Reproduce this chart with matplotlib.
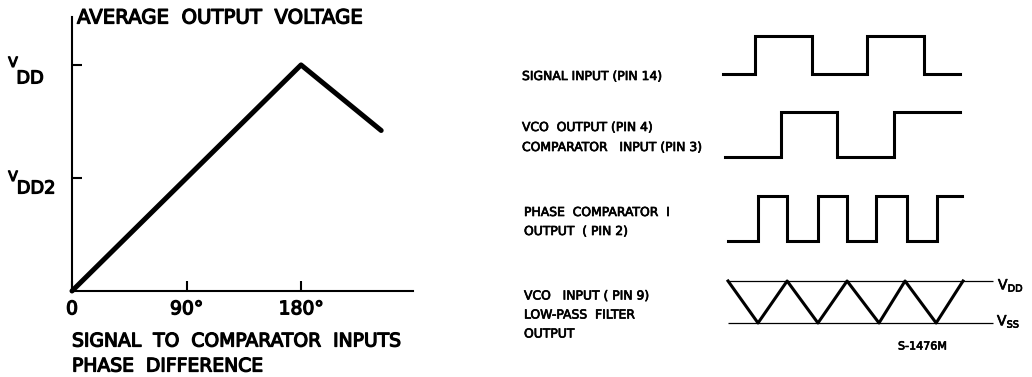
"""
Phase comparator I: average output voltage vs. phase difference,
plus the typical waveforms of the signal, VCO and comparator outputs.
"""

import matplotlib
matplotlib.use("Agg")
import matplotlib.pyplot as plt
import matplotlib.patheffects as pe

# --- left chart: average output voltage vs. phase difference ---
phase_deg = [0, 180, 243]
avg_output = [0.0, 1.0, 0.71]          # in units of VDD
x_ticks = [0, 90, 180]
x_tick_labels = ["0", "90°", "180°"]
y_levels = [0.5, 1.0]                  # VDD/2 and VDD

# --- right chart: waveforms (time in arbitrary units) ---
signal_span = (0.0, 8.46)
signal_edges = [1.14, 3.18, 5.14, 7.18]
vco_span = (0.07, 8.46)
vco_edges = [2.07, 4.07, 6.11]
pc_span = (0.18, 8.54)
pc_edges = [1.25, 2.29, 3.39, 4.43, 5.46, 6.57, 7.64]
tri_t = [0.18, 1.25, 2.29, 3.39, 4.43, 5.57, 6.50, 7.61, 8.57]
tri_v = [1, 0, 1, 0, 1, 0, 1, 0, 1]
rail_span = (0.18, 9.64)

wave_labels = [
    ["SIGNAL INPUT (PIN 14)"],
    ["VCO  OUTPUT (PIN 4)", "COMPARATOR   INPUT (PIN 3)"],
    ["PHASE  COMPARATOR  I", "OUTPUT  ( PIN 2)"],
    ["VCO   INPUT ( PIN 9)", "LOW-PASS  FILTER", "OUTPUT"],
]

plt.rcParams["mathtext.default"] = "regular"

W, H = 1032, 377
fig = plt.figure(figsize=(W / 100, H / 100), dpi=100)

# the lettering in the original is heavier than a regular face
heavy = [pe.withStroke(linewidth=0.9, foreground="black")]
light = [pe.withStroke(linewidth=0.5, foreground="black")]


def px_axes(x0, y_top, x1, y_bottom):
    """Add an axes given its box in figure pixels (origin top-left)."""
    return fig.add_axes([x0 / W, 1 - y_bottom / H, (x1 - x0) / W, (y_bottom - y_top) / H])


def square_wave(span, edges, start_level=0):
    xs, ys = [span[0]], [start_level]
    level = start_level
    for e in edges:
        xs += [e, e]
        ys += [level, 1 - level]
        level = 1 - level
    xs.append(span[1])
    ys.append(level)
    return xs, ys


# ---------------- left chart ----------------
ax = px_axes(72, 17, 413, 291)
ax.plot(phase_deg, avg_output, color="black", lw=3.6, solid_capstyle="round",
        clip_on=False)
ax.set_xlim(0, 268)
ax.set_ylim(0, 1.212)
for side in ("top", "right"):
    ax.spines[side].set_visible(False)
for side in ("left", "bottom"):
    ax.spines[side].set_linewidth(1.5)
ax.set_xticks(x_ticks)
ax.set_xticklabels(x_tick_labels)
ax.set_yticks(y_levels)
ax.tick_params(axis="x", direction="in", length=7, width=1.5, pad=6, labelsize=13.5)
ax.tick_params(axis="y", direction="in", length=7, width=1.5, labelleft=False)
for lab in ax.get_xticklabels():
    lab.set_path_effects(heavy)

ax.annotate("AVERAGE  OUTPUT  VOLTAGE", xy=(0, 1), xycoords="axes fraction",
            xytext=(5, -1), textcoords="offset pixels", ha="left", va="center",
            fontsize=14.2, path_effects=heavy)
ax.annotate("SIGNAL  TO  COMPARATOR  INPUTS", xy=(0, 0), xycoords="axes fraction",
            xytext=(0, -50), textcoords="offset pixels", ha="left", va="center",
            fontsize=13.5, path_effects=heavy)
ax.annotate("PHASE  DIFFERENCE", xy=(0, 0), xycoords="axes fraction",
            xytext=(0, -75), textcoords="offset pixels", ha="left", va="center",
            fontsize=13.5, path_effects=heavy)

# V_DD and V_DD2 labels (small V, large subscript as in the original)
for lvl, sub, sub_dx, sub_dy, v_dy in [(1.0, "DD", -42, -13.5, 2), (0.5, "DD2", -36, -10.5, 1)]:
    ax.annotate("V", xy=(0, lvl), xycoords=("axes fraction", "data"),
                xytext=(-59, v_dy), textcoords="offset pixels",
                ha="center", va="center", fontsize=10, path_effects=heavy)
    ax.annotate(sub, xy=(0, lvl), xycoords=("axes fraction", "data"),
                xytext=(sub_dx, sub_dy), textcoords="offset pixels",
                ha="center", va="center", fontsize=12.8, path_effects=heavy)

# ---------------- right chart ----------------
rows = [(74, 36), (157, 112), (241, 196), (323, 281)]   # (low px, high px)
wave_axes = []
for low, high in rows:
    wax = px_axes(723, high, 993, low)
    wax.set_xlim(0, 9.64)
    wax.set_ylim(0, 1)
    wax.axis("off")
    wave_axes.append(wax)

wave_lw = 2.2
for wax, (span, edges) in zip(wave_axes[:3], [(signal_span, signal_edges),
                                              (vco_span, vco_edges),
                                              (pc_span, pc_edges)]):
    xs, ys = square_wave(span, edges)
    wax.plot(xs, ys, color="black", lw=wave_lw, clip_on=False,
             solid_joinstyle="miter")

tax = wave_axes[3]
tax.plot(tri_t, tri_v, color="black", lw=wave_lw, clip_on=False)
tax.hlines([0, 1], rail_span[0], rail_span[1], color="black", lw=0.9, clip_on=False)

# waveform labels
label_rows = [[76.5], [127.5, 147.5], [212.5, 231.5], [296, 315, 334]]
label_x = [522, 522, 524, 524]
for lines, ys, x in zip(wave_labels, label_rows, label_x):
    for txt, y in zip(lines, ys):
        fig.text(x / W, 1 - y / H, txt, ha="left", va="center", fontsize=8.9,
                 path_effects=light)

fig.text(998 / W, 1 - 285.5 / H, "V$_{DD}$", ha="left", va="center", fontsize=10,
         path_effects=light)
fig.text(997 / W, 1 - 321.5 / H, "V$_{SS}$", ha="left", va="center", fontsize=10,
         path_effects=light)
fig.text(898 / W, 1 - 346.5 / H, "S-1476M", ha="left", va="center", fontsize=8,
         path_effects=light)

fig.savefig("out.png", dpi=100)
plt.close(fig)
